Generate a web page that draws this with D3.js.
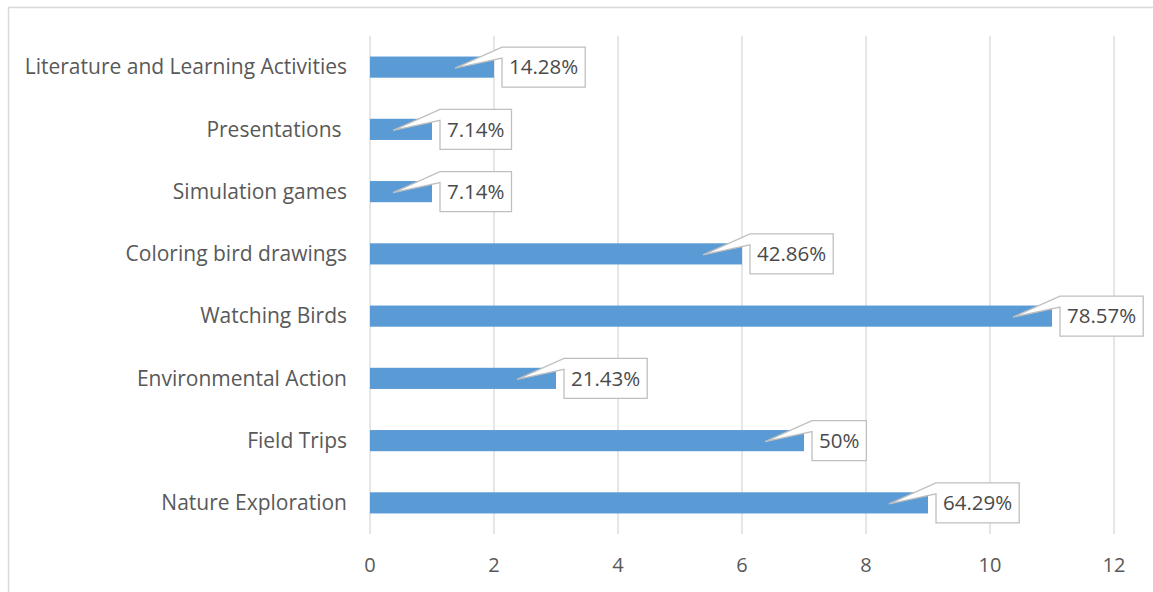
<!DOCTYPE html>
<html>
<head>
<meta charset="utf-8">
<script src="https://cdn.jsdelivr.net/npm/d3@7"></script>
<style>
  body { margin: 0; background: #fff; }
  svg { display: block; font-family: "Open Sans", "Noto Sans", sans-serif; }
</style>
</head>
<body>
<svg id="chart"></svg>
<script>
// categories top to bottom, as drawn
const categories = [
  "Literature and Learning Activities",
  "Presentations ",
  "Simulation games",
  "Coloring bird drawings",
  "Watching Birds",
  "Environmental Action",
  "Field Trips",
  "Nature Exploration",
];
const counts = [2, 1, 1, 6, 11, 3, 7, 9];
const percentLabels = ["14.28%", "7.14%", "7.14%", "42.86%", "78.57%", "21.43%", "50%", "64.29%"];
const xTicks = [0, 2, 4, 6, 8, 10, 12];

const width = 1153;
const height = 592;
const marginLeft = 370;
const marginRight = 39;
const marginTop = 36;
const marginBottom = 58;

const data = categories.map((c, i) => ({ cat: c, value: counts[i], label: percentLabels[i] }));

const svg = d3.select("#chart").attr("width", width).attr("height", height);

// outer frame
svg.append("path")
  .attr("d", `M8.5,${height + 2} V7.5 H${width + 2}`)
  .attr("fill", "none")
  .attr("stroke", "#d9d9d9")
  .attr("stroke-width", 1.5);

const x = d3.scaleLinear().domain([0, 12]).range([marginLeft, width - marginRight]);
const y = d3.scaleBand().domain(categories).range([marginTop, height - marginBottom]).paddingInner(0.66).paddingOuter(0.33);

// gridlines
svg.append("g")
  .selectAll("line")
  .data(xTicks)
  .join("line")
  .attr("x1", (d) => x(d))
  .attr("x2", (d) => x(d))
  .attr("y1", marginTop)
  .attr("y2", height - marginBottom)
  .attr("stroke", "#d9d9d9")
  .attr("stroke-width", 1.3);

// x tick labels
svg.append("g")
  .selectAll("text")
  .data(xTicks)
  .join("text")
  .attr("x", (d) => x(d))
  .attr("y", 572)
  .attr("text-anchor", "middle")
  .attr("font-size", 20)
  .attr("fill", "#595959")
  .text((d) => d);

// category labels
svg.append("g")
  .selectAll("text")
  .data(categories)
  .join("text")
  .attr("x", 347)
  .attr("y", (d) => y(d) + y.bandwidth() / 2)
  .attr("dy", "0.35em")
  .attr("text-anchor", "end")
  .attr("font-size", 21)
  .attr("fill", "#595959")
  .style("white-space", "pre")
  .text((d) => d);

// bars
svg.append("g")
  .selectAll("rect")
  .data(data)
  .join("rect")
  .attr("x", x(0))
  .attr("y", (d) => y(d.cat))
  .attr("width", (d) => x(d.value) - x(0))
  .attr("height", y.bandwidth())
  .attr("fill", "#5b9bd5");

// callout labels
const callouts = svg.append("g")
  .selectAll("g")
  .data(data)
  .join("g");

callouts.each(function (d) {
  const g = d3.select(this);
  const cy = y(d.cat) + y.bandwidth() / 2;
  const end = x(d.value);
  const boxX = end + 8;
  const boxY = cy - 20;
  const txt = g.append("text")
    .attr("font-size", 20.5)
    .attr("fill", "#4a4a4a")
    .text(d.label);
  const w = txt.node().getComputedTextLength() + 14;
  const h = 40;
  const ax = end - 39;
  const ay = cy + 1;
  g.insert("path", "text")
    .attr("d", `M${boxX},${boxY} H${boxX + w} V${boxY + h} H${boxX} V${boxY + 11} L${ax},${ay} Z`)
    .attr("fill", "#fff")
    .attr("stroke", "#bfbfbf")
    .attr("stroke-width", 1.3);
  txt.attr("x", boxX + 7).attr("y", cy).attr("dy", "0.35em");
});
</script>
</body>
</html>
